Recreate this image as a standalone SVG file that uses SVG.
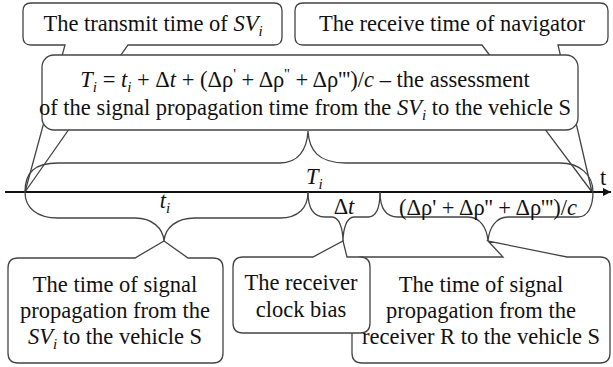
<svg xmlns="http://www.w3.org/2000/svg" width="613" height="367" viewBox="0 0 613 367">
<style>
.box{fill:#fff;stroke:#444;stroke-width:1.3}
.ln{fill:none;stroke:#444;stroke-width:1.3}
</style>
<defs>
<marker id="arr" markerWidth="10" markerHeight="8" refX="8" refY="4" orient="auto" markerUnits="userSpaceOnUse">
<path d="M0,0 L8,4 L0,8 Z" fill="#111"/>
</marker>
</defs>
<rect width="613" height="367" fill="#fff"/>

<g id="transmit-time">
<path class="box" d="M31,3 L274,3 Q282,3 282,11 L282,37 Q282,45 274,45 L128,45 L25,192 L65,45 L31,45 Q23,45 23,37 L23,11 Q23,3 31,3 Z"/>
<text font-family="Liberation Serif" font-size="22.5" fill="#111" text-anchor="middle" x="153" y="31">The transmit time of <tspan font-style="italic">SV</tspan><tspan font-style="italic" font-size="15" dy="5">i</tspan></text>
</g>

<g id="receive-time">
<path class="box" d="M303,3 L600,3 Q608,3 608,11 L608,37 Q608,45 600,45 L558,45 L592,192 L482,45 L303,45 Q295,45 295,37 L295,11 Q295,3 303,3 Z"/>
<text font-family="Liberation Serif" font-size="22.5" fill="#111" text-anchor="middle" x="452" y="31">The receive time of navigator</text>
</g>

<g id="assessment">
<rect class="box" x="42" y="55" width="536" height="75" rx="12" ry="12"/>
<text font-family="Liberation Serif" font-size="22.5" fill="#111" text-anchor="middle" x="305" y="87"><tspan font-style="italic">T</tspan><tspan font-style="italic" font-size="15" dy="5">i</tspan><tspan dy="-5"> = </tspan><tspan font-style="italic">t</tspan><tspan font-style="italic" font-size="15" dy="5">i</tspan><tspan dy="-5"> + Δ</tspan><tspan font-style="italic">t</tspan> + (Δρ<tspan font-size="15" dy="-8">'</tspan><tspan dy="8"> + Δρ</tspan><tspan font-size="15" dy="-8">''</tspan><tspan dy="8"> + Δρ''')/</tspan><tspan font-style="italic">c</tspan> – the assessment</text>
<text font-family="Liberation Serif" font-size="22.5" fill="#111" text-anchor="middle" x="305" y="115">of the signal  propagation time from the <tspan font-style="italic">SV</tspan><tspan font-style="italic" font-size="15" dy="5">i</tspan><tspan dy="-5"> to the vehicle S</tspan></text>
</g>

<g id="connectors">
<line x1="5" y1="192" x2="611" y2="192" stroke="#111" stroke-width="2" marker-end="url(#arr)"/>
<path class="ln" d="M25,192 C25,172 35,163 58,163 L280,163 C298,163 307,150 308,131 C309,150 318,163 346,163 L560,163 C580,163 593,175 593,192"/>
<path class="ln" d="M25,192 C25,208 37,218 58,218 L135,218 C152,218 163,228 164,241 C165,228 176,218 195,218 L280,218 C298,218 308,208 308,192"/>
<path class="ln" d="M308,192 C308,208 313,217 325,217 L332,217 C339,217 343,228 343,242 C343,228 347,217 354,217 L368,217 C376,217 380,208 380,192"/>
<path class="ln" d="M380,192 C380,208 386,217 398,217 L468,217 C480,217 487,228 488,241 C489,228 496,217 508,217 L578,217 C588,217 593,206 593,192"/>
</g>

<g id="axis-labels">
<text font-family="Liberation Serif" font-size="22.5" fill="#111" x="600" y="185">t</text>
<text font-family="Liberation Serif" font-size="22.5" fill="#111" x="306" y="184"><tspan font-style="italic">T</tspan><tspan font-style="italic" font-size="15" dy="5">i</tspan></text>
<text font-family="Liberation Serif" font-size="22.5" fill="#111" text-anchor="middle" x="165" y="208"><tspan font-style="italic">t</tspan><tspan font-style="italic" font-size="15" dy="5">i</tspan></text>
<text font-family="Liberation Serif" font-size="22.5" fill="#111" text-anchor="middle" x="344" y="214">Δ<tspan font-style="italic">t</tspan></text>
<text font-family="Liberation Serif" font-size="22.5" fill="#111" text-anchor="middle" x="488" y="215">(Δρ' + Δρ'' + Δρ''')/<tspan font-style="italic">c</tspan></text>
</g>

<g id="propagation-sv">
<path class="box" d="M18,258 L135,258 L164,241 L188,258 L213,258 Q223,258 223,268 L223,353 Q223,363 213,363 L18,363 Q8,363 8,353 L8,268 Q8,258 18,258 Z"/>
<text font-family="Liberation Serif" font-size="22.5" fill="#111" text-anchor="middle" x="115" y="292">The time of signal</text>
<text font-family="Liberation Serif" font-size="22.5" fill="#111" text-anchor="middle" x="115" y="318">propagation from the</text>
<text font-family="Liberation Serif" font-size="22.5" fill="#111" text-anchor="middle" x="115" y="344"><tspan font-style="italic">SV</tspan><tspan font-style="italic" font-size="15" dy="5">i</tspan><tspan dy="-5"> to the vehicle S</tspan></text>
</g>

<g id="propagation-receiver">
<path class="box" d="M362,257 L503,257 L488,241 L567,257 L600,257 Q610,257 610,267 L610,353 Q610,363 600,363 L362,363 Q352,363 352,353 L352,267 Q352,257 362,257 Z"/>
<text font-family="Liberation Serif" font-size="22.5" fill="#111" text-anchor="middle" x="481" y="292">The time of signal</text>
<text font-family="Liberation Serif" font-size="22.5" fill="#111" text-anchor="middle" x="481" y="318">propagation from the</text>
<text font-family="Liberation Serif" font-size="22.5" fill="#111" text-anchor="middle" x="481" y="344">receiver R to the vehicle S</text>
</g>

<g id="clock-bias">
<path class="box" d="M243,257 L313,257 L343,241 L347,257 L360,257 Q370,257 370,267 L370,323 Q370,333 360,333 L243,333 Q233,333 233,323 L233,267 Q233,257 243,257 Z"/>
<text font-family="Liberation Serif" font-size="22.5" fill="#111" text-anchor="middle" x="301" y="290">The receiver</text>
<text font-family="Liberation Serif" font-size="22.5" fill="#111" text-anchor="middle" x="301" y="317">clock bias</text>
</g>
</svg>
